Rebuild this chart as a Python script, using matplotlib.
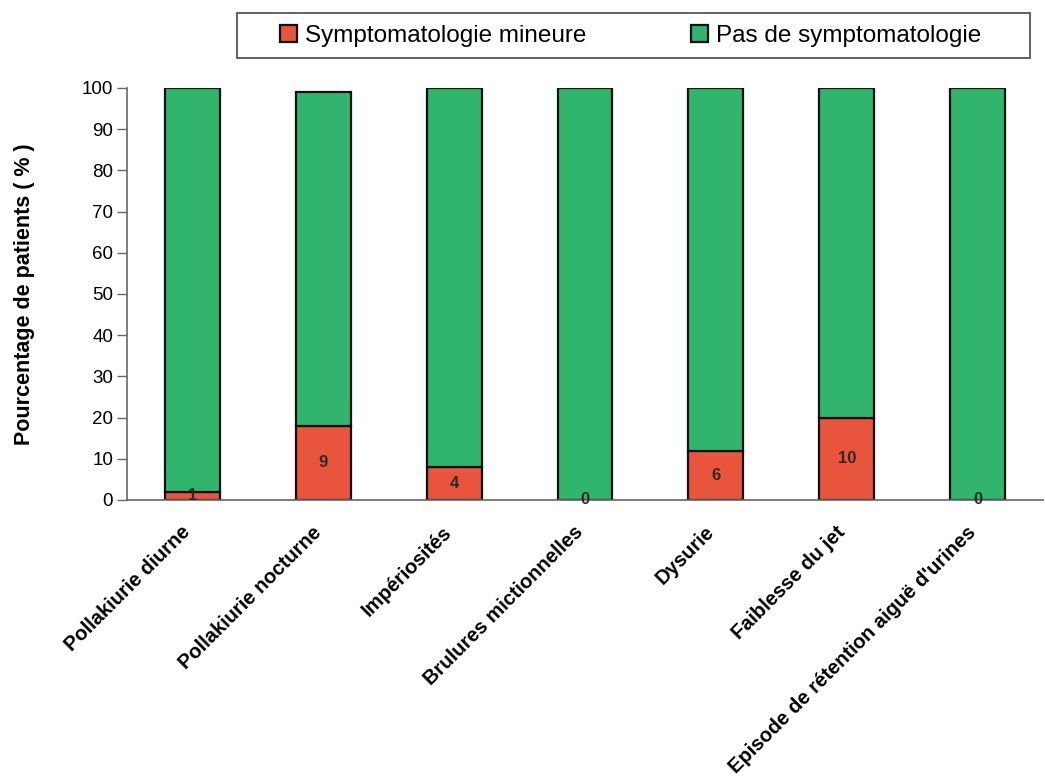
import matplotlib
matplotlib.use("Agg")
import matplotlib.pyplot as plt
from matplotlib.patches import Rectangle
from matplotlib.transforms import ScaledTranslation
import numpy as np

categories = ["Pollakiurie diurne", "Pollakiurie nocturne", "Impériosités",
              "Brulures mictionnelles", "Dysurie", "Faiblesse du jet",
              "Episode de rétention aiguë d'urines"]
mineure_pct = [2, 18, 8, 0, 12, 20, 0]
pas_pct = [98, 81, 92, 100, 88, 80, 100]
mineure_n = [1, 9, 4, 0, 6, 10, 0]
yticks = [0, 10, 20, 30, 40, 50, 60, 70, 80, 90, 100]

plt.rcParams['font.family'] = ['Liberation Sans', 'DejaVu Sans']

RED = "#E8553C"
GREEN = "#31B56C"
W, H = 1045, 779

fig = plt.figure(figsize=(W / 100, H / 100), dpi=100)
ax = fig.add_axes([127 / W, 1 - 500 / H, 916 / W, 412 / H])

x = np.arange(len(categories))
w = 0.42
b1 = ax.bar(x, mineure_pct, w, color=RED, edgecolor="#111111", linewidth=1.6,
            label="Symptomatologie mineure")
b2 = ax.bar(x, pas_pct, w, bottom=mineure_pct, color=GREEN, edgecolor="#111111",
            linewidth=1.6, label="Pas de symptomatologie")

for xi, p, n in zip(x, mineure_pct, mineure_n):
    ax.text(xi, p / 2, str(n), ha="center", va="center", fontsize=12,
            fontweight="bold", color="#2a2a2a")

ax.set_xlim(-0.5, len(categories) - 0.5)
ax.set_ylim(0, 100)
ax.set_yticks(yticks)
ax.tick_params(axis="y", labelsize=13.5, length=7, width=1, color="#666666",
               direction="out", pad=3)
ax.tick_params(axis="x", length=0, pad=21)
ax.set_xticks(x)
ax.set_xticklabels(categories, rotation=45, ha="right", va="center",
                   rotation_mode="anchor", fontsize=14.5, fontweight="bold")
off = ScaledTranslation(-5 / 100, 0, fig.dpi_scale_trans)
for lab in ax.get_xticklabels():
    lab.set_transform(lab.get_transform() + off)
for s in ["top", "right"]:
    ax.spines[s].set_visible(False)
for s in ["left", "bottom"]:
    ax.spines[s].set_color("#666666")
    ax.spines[s].set_linewidth(1.2)

fig.text(25 / W, 1 - 294 / H, "Pourcentage de patients ( % )", rotation=90,
         ha="center", va="center", fontsize=15.5, fontweight="bold")

# legend frame
fig.patches.append(Rectangle((237 / W, 1 - 58 / H), 793 / W, 45 / H,
                             transform=fig.transFigure, facecolor="white",
                             edgecolor="#555555", linewidth=1.3, zorder=0))
leg = fig.legend(handles=[b1, b2], loc="center left",
                 bbox_to_anchor=(280 / W, 1 - 36 / H),
                 ncol=2, fontsize=17.5, frameon=False,
                 handlelength=0.7, handleheight=0.7, handletextpad=0.33,
                 columnspacing=4.3, borderpad=0, borderaxespad=0)

fig.savefig("out.png", dpi=100, facecolor="white")
